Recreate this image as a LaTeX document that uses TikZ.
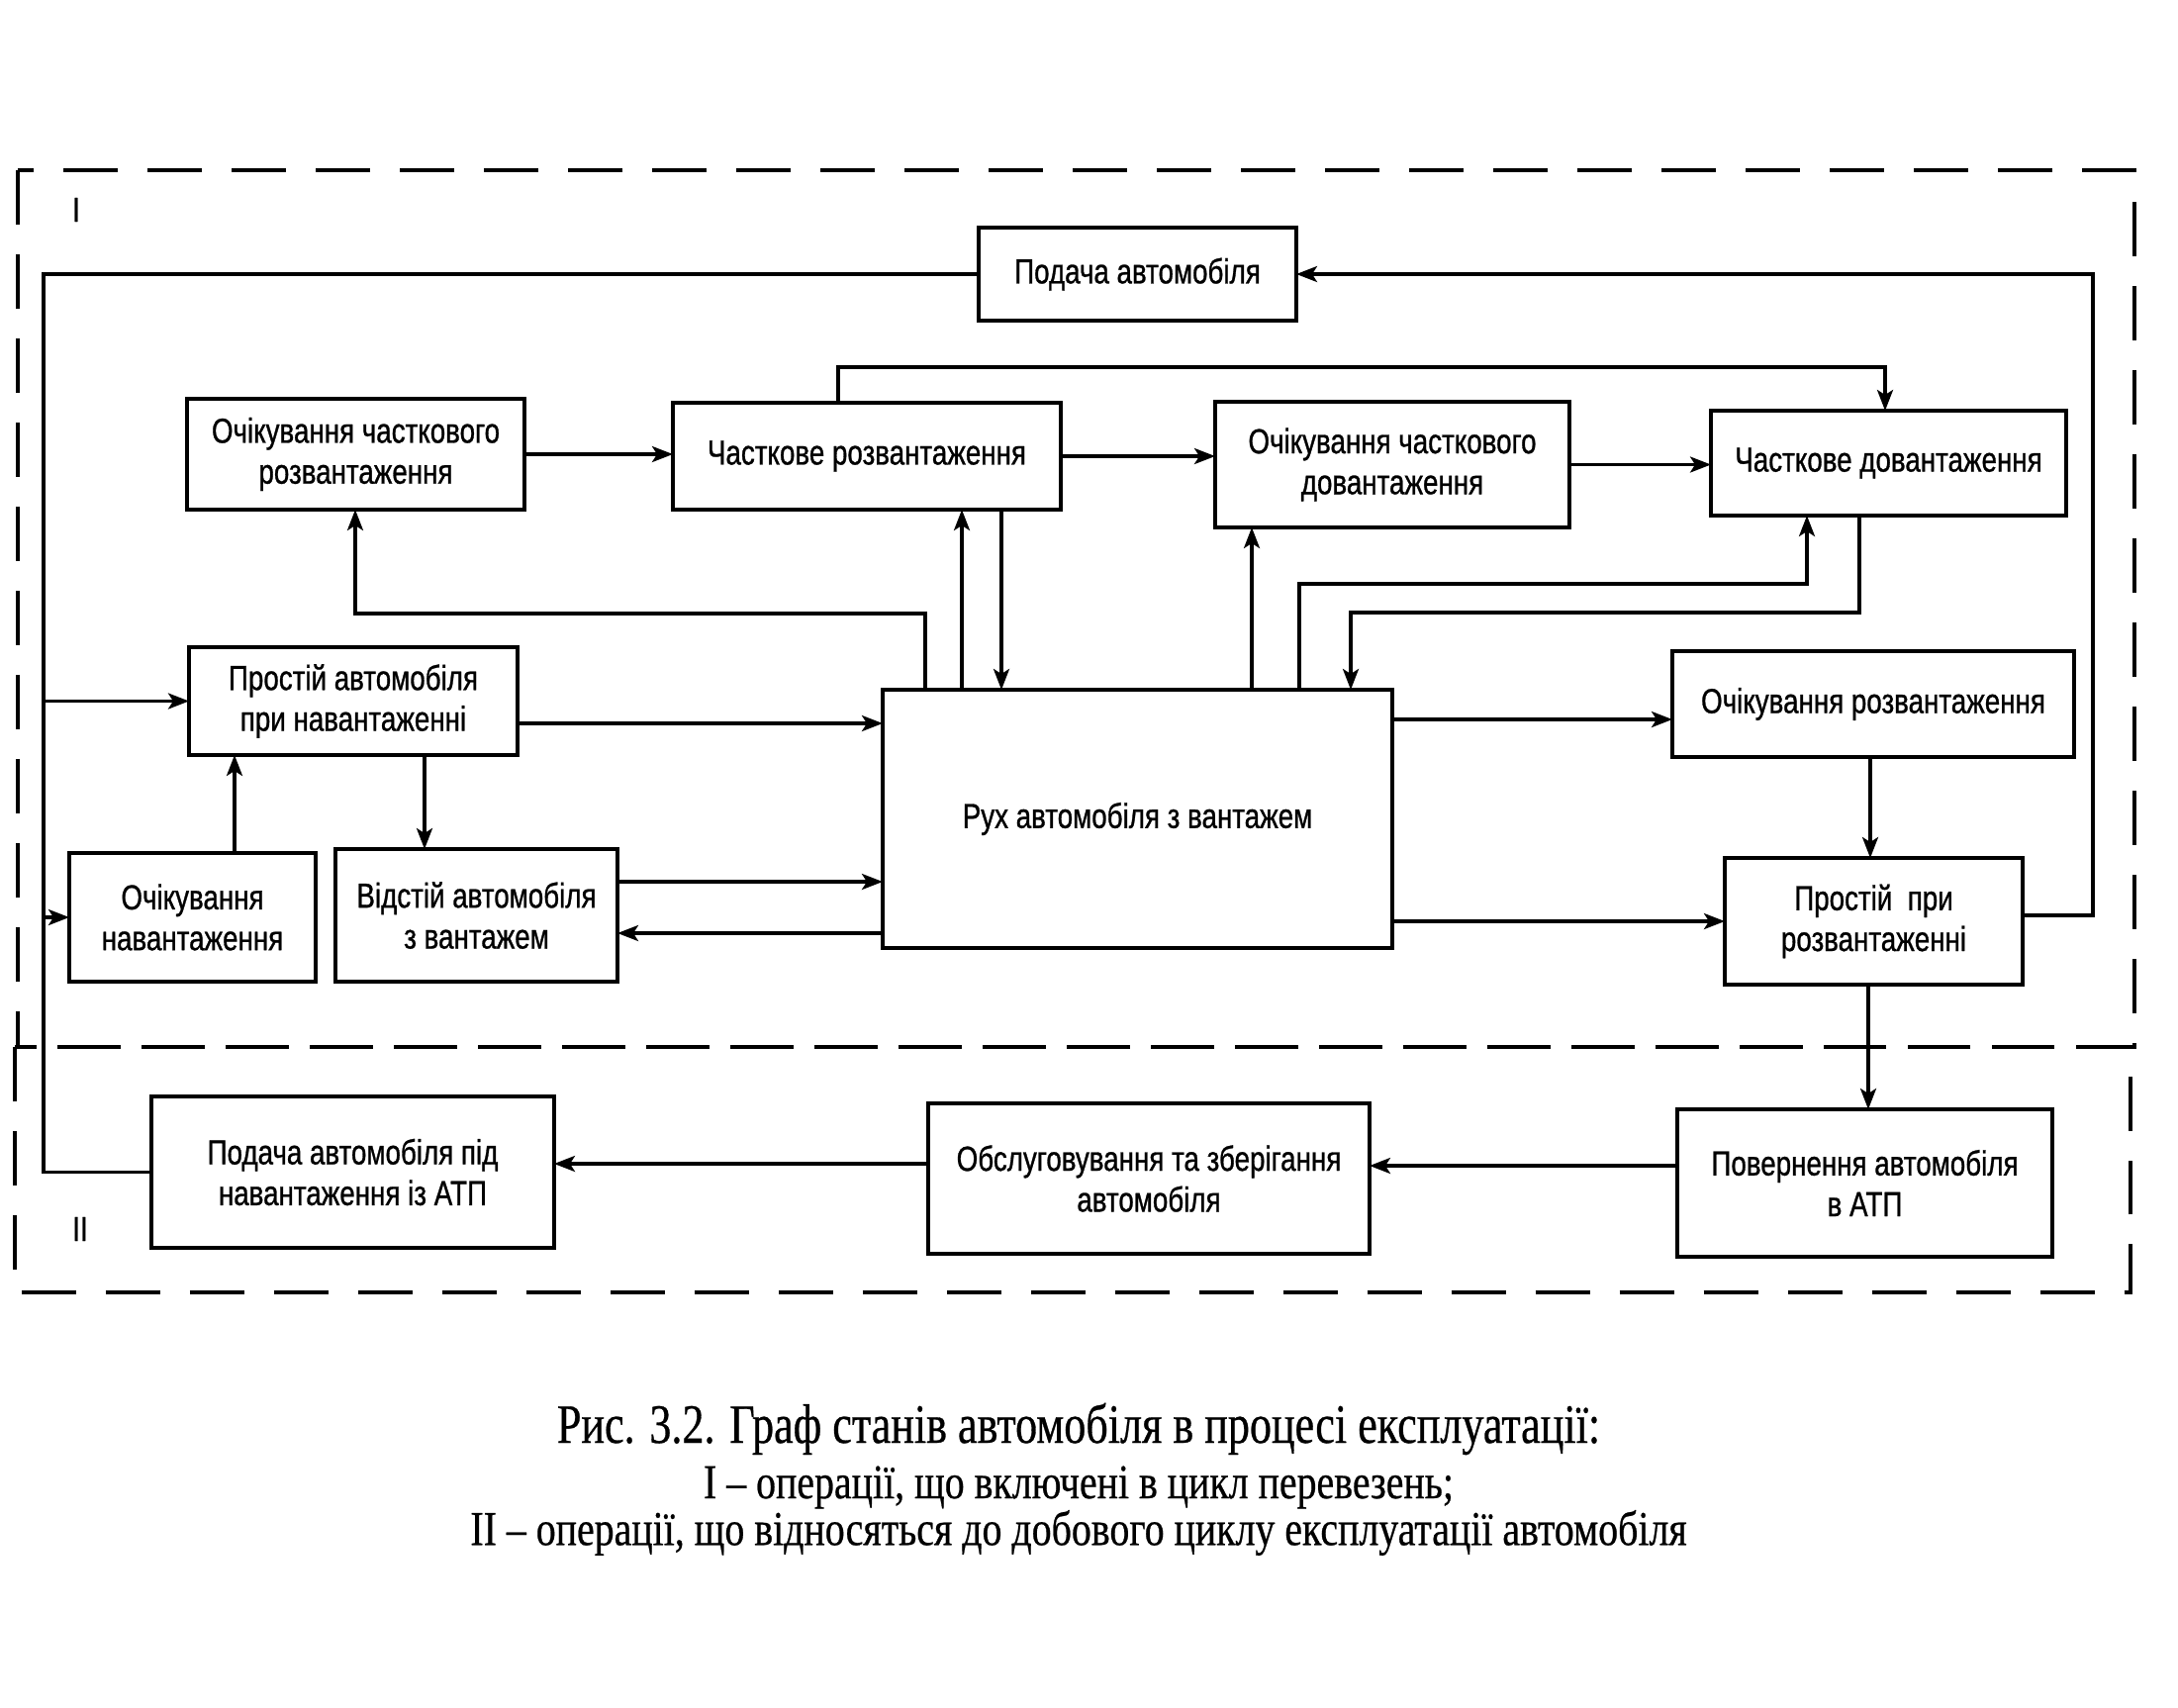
\documentclass[tikz,border=0pt]{standalone}
\usepackage{fontspec}
\setmainfont{Liberation Serif}
\newfontfamily\boxfont[FakeStretch=0.79,FakeBold=0.8]{Liberation Sans}
\newfontfamily\capfontA[FakeStretch=0.785,FakeBold=0.5]{Liberation Serif}
\newfontfamily\capfontB[FakeStretch=0.81,FakeBold=0.5]{Liberation Serif}
\usetikzlibrary{arrows.meta,calc}
\newcommand\mkbox[6]{\node[statebox, minimum width={(#4-#2)*0.02cm}, minimum height={(#5-#3)*0.02cm}] (#1) at ({(#2+#4)/2},{(#3+#5)/2}) {#6};}
\tikzset{
  statebox/.style={draw, line width=1.9pt, align=center, inner sep=2pt, outer sep=0pt,
    font=\boxfont\fontsize{20}{23.5}\selectfont},
  arr/.style={line width=1.8pt, -{Stealth[length=0.42cm,width=0.32cm,inset=0.1cm]}},
  conn/.style={line width=1.8pt},
  region/.style={line width=1.9pt, dash pattern=on 1.1cm off 0.6cm},
  lbl/.style={font=\boxfont\fontsize{20}{24}\selectfont, inner sep=0pt},
  captextA/.style={font=\capfontA\fontsize{32}{36}\selectfont, inner sep=0pt},
  captextB/.style={font=\capfontB\fontsize{28}{34}\selectfont, inner sep=0pt}
}
\begin{document}
\begin{tikzpicture}[x=0.02cm,y=-0.02cm]
\useasboundingbox (0,0) rectangle (2201,1725);
% regions
\draw[region] (18,172) rectangle (2157,1058);
\draw[region] (15,1058) rectangle (2153,1306);
\node[lbl] (lI) at (77,212) {I};
\node[lbl] (lII) at (81,1242) {II};
% boxes
\mkbox{pod}{989}{230}{1310}{324}{Подача автомобіля}
\mkbox{ochr}{189}{403}{530}{515}{Очікування часткового\\розвантаження}
\mkbox{chr}{680}{407}{1072}{515}{Часткове розвантаження}
\mkbox{ochd}{1228}{406}{1586}{533}{Очікування часткового\\довантаження}
\mkbox{chd}{1729}{415}{2088}{521}{Часткове довантаження}
\mkbox{prn}{191}{654}{523}{763}{Простій автомобіля\\при навантаженні}
\mkbox{ruh}{892}{697}{1407}{958}{Рух автомобіля з вантажем}
\mkbox{ochrozv}{1690}{658}{2096}{765}{Очікування розвантаження}
\mkbox{ochnav}{70}{862}{319}{992}{Очікування\\навантаження}
\mkbox{vid}{339}{858}{624}{992}{Відстій автомобіля\\з вантажем}
\mkbox{prr}{1743}{867}{2044}{995}{Простій\ \ при\\розвантаженні}
\mkbox{podatp}{153}{1108}{560}{1261}{Подача автомобіля під\\навантаження із АТП}
\mkbox{obsl}{938}{1115}{1384}{1267}{Обслуговування та зберігання\\автомобіля}
\mkbox{pov}{1695}{1121}{2074}{1270}{Повернення автомобіля\\в АТП}
% helper coordinates
\coordinate (L) at (44,0);
\coordinate (R) at (2115,0);
\coordinate (t1) at (1905,371);
\coordinate (c6) at (359,620);
\coordinate (c10) at (1826,590);
\coordinate (c11) at (1365,619);
% left loop
\draw[conn] (pod.west) -| (L |- podatp.west) -- (podatp.west);
\draw[arr] (L |- prn.west) -- (prn.west);
\draw[arr] (L |- ochnav.west) -- (ochnav.west);
% top row
\draw[arr] (ochr.east) -- (ochr.east -| chr.west);
\draw[arr] (chr.east) -- (chr.east -| ochd.west);
\draw[arr] (ochd.east) -- (ochd.east -| chd.west);
\draw[arr] ($(chr.north west)+(167,0)$) |- (t1) -- (t1 |- chd.north);
% between ruh and top row
\draw[arr] ($(ruh.north west)+(43,0)$) |- (c6) -- (c6 |- ochr.south);
\draw[arr] ($(ruh.north west)+(80,0)$) coordinate (c7) -- (c7 |- chr.south);
\draw[arr] ($(chr.south west)+(332,0)$) coordinate (c8) -- (c8 |- ruh.north);
\draw[arr] ($(ruh.north west)+(373,0)$) coordinate (c9) -- (c9 |- ochd.south);
\draw[arr] ($(ruh.north west)+(421,0)$) |- (c10) -- (c10 |- chd.south);
\draw[arr] ($(chd.south west)+(150,0)$) |- (c11) -- (c11 |- ruh.north);
% left group
\draw[arr] ($(prn.south east)+(0,-32)$) coordinate (c12) -- (c12 -| ruh.west);
\draw[arr] ($(ochnav.north west)+(167,0)$) coordinate (c13) -- (c13 |- prn.south);
\draw[arr] ($(prn.south west)+(238,0)$) coordinate (c14) -- (c14 |- vid.north);
\draw[arr] ($(vid.north east)+(0,33)$) coordinate (c15) -- (c15 -| ruh.west);
\coordinate (c16) at ($(vid.south east)+(0,-49)$);
\draw[arr] (c16 -| ruh.west) -- (c16);
% right group
\draw[arr] ($(ruh.north east)+(0,30)$) coordinate (c17) -- (c17 -| ochrozv.west);
\draw[arr] ($(ochrozv.south west)+(200,0)$) coordinate (c18) -- (c18 |- prr.north);
\draw[arr] (prr.west -| ruh.east) -- (prr.west);
\draw[arr] ($(prr.north east)+(0,58)$) coordinate (c20) -| (R |- pod.east) -- (pod.east);
\draw[arr] ($(prr.south west)+(145,0)$) coordinate (c21) -- (c21 |- pov.north);
% bottom row
\draw[arr] ($(pov.north west)+(0,57)$) coordinate (c22) -- (c22 -| obsl.east);
\draw[arr] ($(obsl.north west)+(0,61)$) coordinate (c23) -- (c23 -| podatp.east);
% caption
\node[captextA] (cap1) at (1090,1444) {Рис. 3.2. Граф станів автомобіля в процесі експлуатації:};
\node[captextB] (cap2) at (1090,1503) {I – операції, що включені в цикл перевезень;};
\node[captextB] (cap3) at (1090,1549) {II – операції, що відносяться до добового циклу експлуатації автомобіля};
\end{tikzpicture}
\end{document}
